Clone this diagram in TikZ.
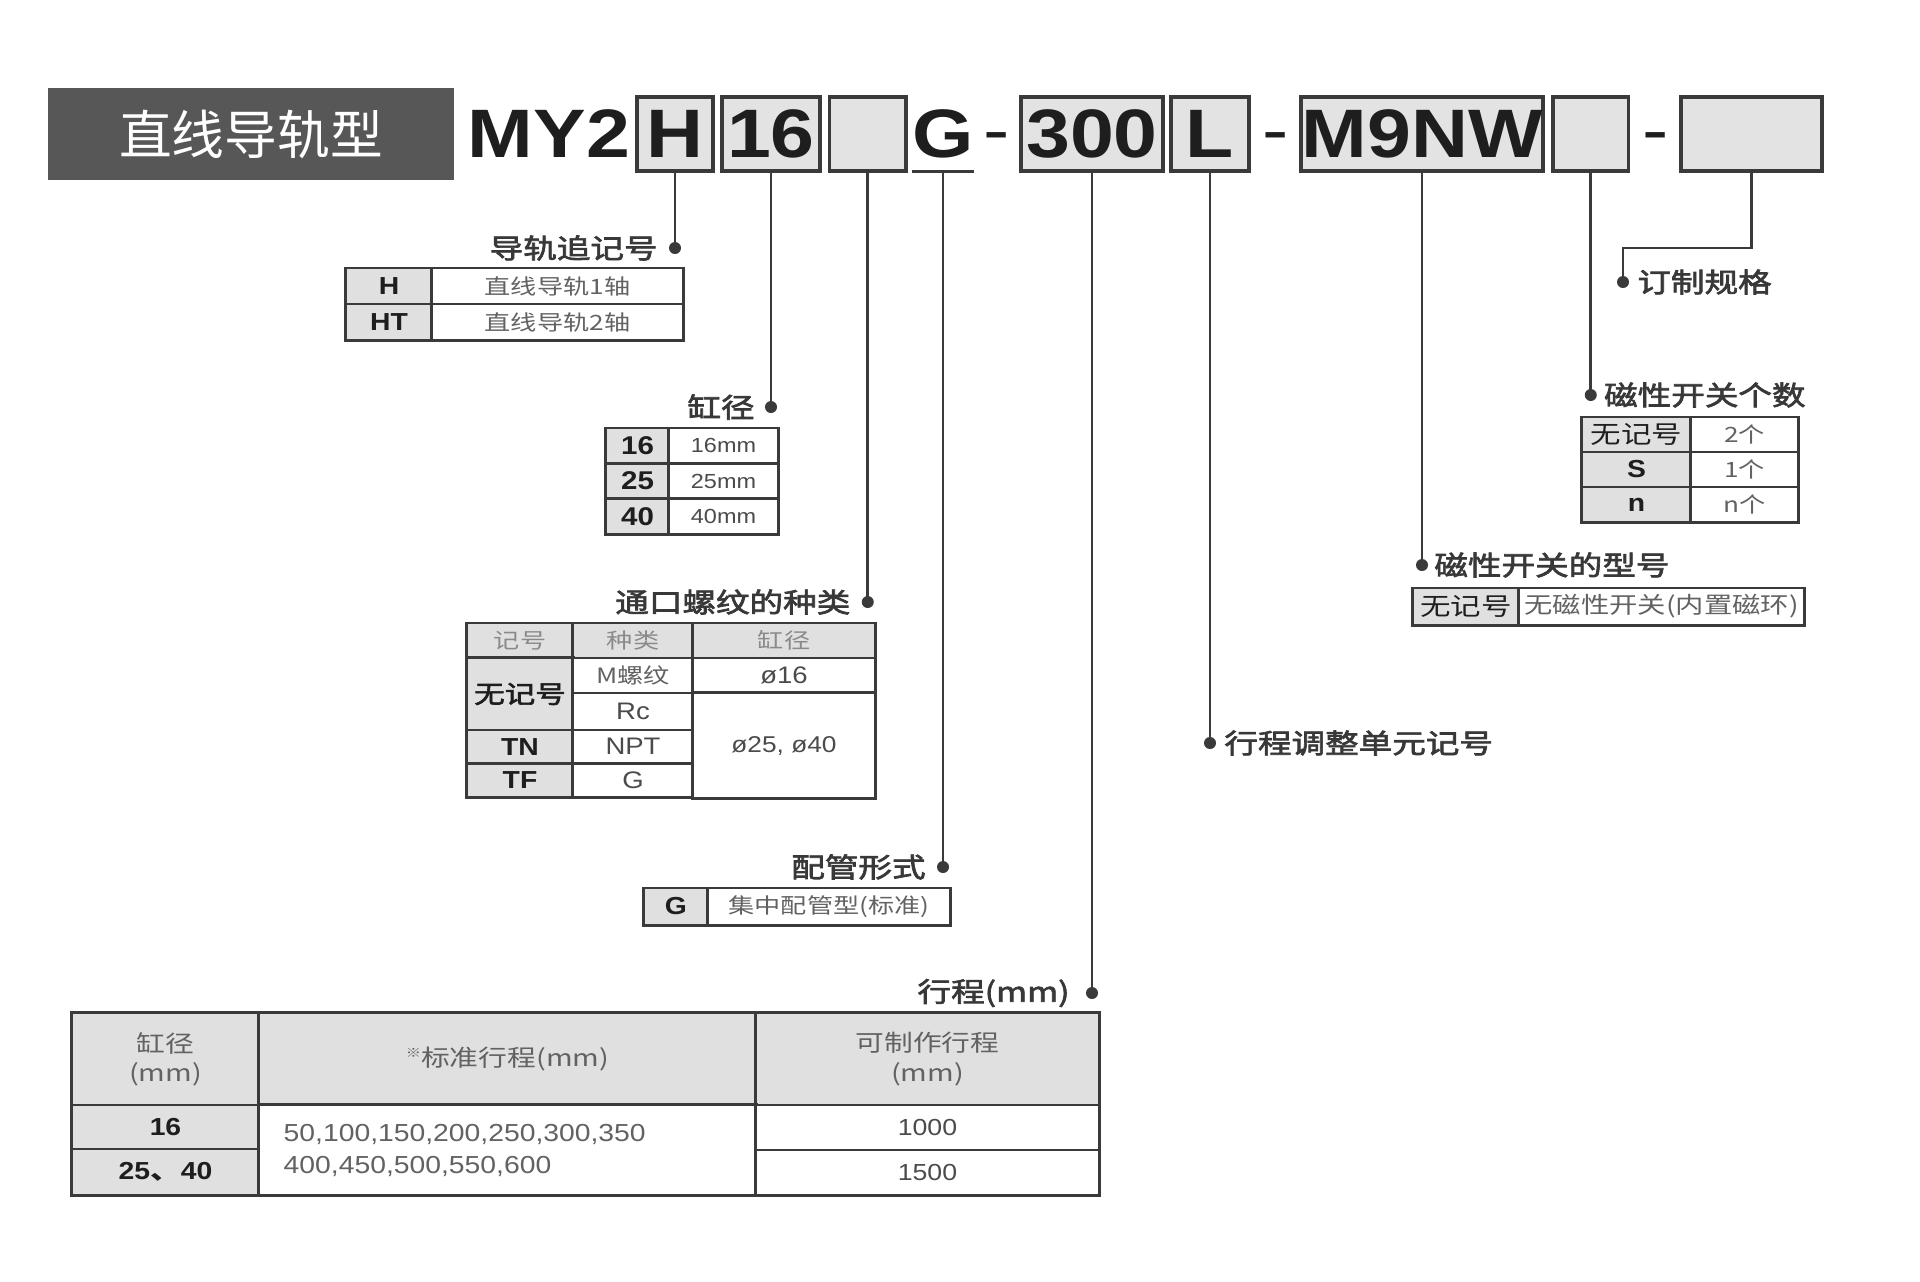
\documentclass[tikz,border=0pt]{standalone}
\usepackage{fontspec}
\setmainfont{Liberation Sans}[FakeStretch=1.15]
\newfontfamily\cjk{Noto Sans CJK SC}[FakeStretch=1.24]
\newfontfamily\cjklbl{Noto Sans CJK SC}[FakeStretch=1.24, FakeBold=2.5]
\newfontfamily\cjktitle{Noto Sans CJK SC}
\usetikzlibrary{positioning}

\definecolor{linecol}{HTML}{3A3A3A}
\definecolor{boxgray}{HTML}{E3E3E3}
\definecolor{cellgray}{HTML}{E0E0E0}
\definecolor{titlecol}{HTML}{575757}
\definecolor{codecol}{HTML}{1E1E1E}
\definecolor{lblcol}{HTML}{383838}
\definecolor{desccol}{HTML}{626262}
\definecolor{headcol}{HTML}{8A8A8A}

\tikzset{
  wire/.style={draw=linecol, line width=0.75pt},
  dot/.style={circle, fill=linecol, inner sep=0, minimum size=0.12cm},
  titlebox/.style={fill=titlecol, inner sep=0, minimum width=4.06cm, minimum height=0.92cm,
    text=white, font=\cjktitle\fontsize{15}{18}\selectfont},
  codetext/.style={inner sep=0, minimum height=0.74cm, text=codecol, font=\bfseries\fontsize{19.5}{23}\selectfont},
  codebox/.style={codetext, draw=linecol, fill=boxgray, line width=1pt},
  dashtext/.style={inner sep=0, anchor=base, text=codecol, font=\fontsize{19.5}{23}\selectfont},
  lbl/.style={inner sep=0, text=lblcol, font=\cjklbl\fontsize{7.7}{9}\selectfont},
  cellbox/.style={draw=linecol, line width=0.85pt, fill=white, inner sep=0, align=center,
    text=desccol, font=\cjk\fontsize{6}{7.5}\selectfont},
  codecell/.style={fill=cellgray, text=codecol, font=\bfseries\fontsize{7}{8}\selectfont},
  latcell/.style={text=codecol!80, font=\fontsize{6.8}{8}\selectfont},
  headcell/.style={fill=cellgray, text=headcol},
  bighead/.style={text=desccol, font=\cjk\fontsize{6.6}{8.3}\selectfont},
  numtext/.style={inner sep=0, text=desccol, font=\fontsize{7}{9.1}\selectfont}
}

% one framed box of the code row, from x #2 to x #3
\newcommand{\codebox}[4]{
\pgfmathsetmacro{\boxw}{(#3-#2)/100}
\pgfmathsetmacro{\boxx}{(#2+#3)/2}
\node[codebox, minimum width=\boxw cm] (#1) at (\boxx,134) {#4};
}

% one table cell from (#3,#4) to (#5,#6)
\newcommand{\tabcell}[7][]{
\pgfmathsetmacro{\cellw}{(#5-#3)/100}
\pgfmathsetmacro{\cellh}{(#6-#4)/100}
\node[cellbox, #1, minimum width=\cellw cm, minimum height=\cellh cm] (#2) at ({(#3+#5)/2},{(#4+#6)/2}) {#7};
}

\begin{document}
\begin{tikzpicture}[x=0.01cm,y=-0.01cm]
\path[use as bounding box, fill=white] (0,0) rectangle (1920,1281);

% code row
\node[titlebox] (title) at (251,134) {直线导轨型};
\node[codetext] (model) at (549,134) {MY2};
\codebox{boxH}{637}{713}{H}
\codebox{box16}{722}{820}{16}
\codebox{boxPort}{829.5}{906}{}
\node[codetext, minimum width=0.55cm] (codeG) at (943,134) {G};
\draw[draw=linecol, line width=1pt] (codeG.south west) -- (codeG.south east);
\node[dashtext] (dash1) at (996.5,153) {-};
\codebox{box300}{1021}{1163}{300}
\codebox{boxL}{1171}{1249}{L}
\node[dashtext] (dash2) at (1275.5,153) {-};
\codebox{boxSw}{1301}{1543}{M9NW}
\codebox{boxNum}{1553}{1628.5}{}
\node[dashtext] (dash3) at (1655.5,153) {-};
\codebox{boxOpt}{1681}{1822}{}

% dots at the ends of the leaders
\node[dot] (dH) at (boxH |- 0,248) {};
\node[dot] (dBore) at (box16 |- 0,407) {};
\node[dot] (dPort) at (boxPort |- 0,602) {};
\node[dot] (dPipe) at (codeG |- 0,867) {};
\node[dot] (dStroke) at (box300 |- 0,993) {};
\node[dot] (dAdj) at (boxL |- 0,743) {};
\node[dot] (dSw) at (boxSw |- 0,565) {};
\node[dot] (dNum) at (boxNum |- 0,395) {};
\node[dot] (dOpt) at (1623,282) {};
\coordinate (cOpt) at (1623,248);

\draw[wire] (boxH.south) -- (dH.center);
\draw[wire] (box16.south) -- (dBore.center);
\draw[wire] (boxPort.south) -- (dPort.center);
\draw[wire] (codeG.south) -- (dPipe.center);
\draw[wire] (box300.south) -- (dStroke.center);
\draw[wire] (boxL.south) -- (dAdj.center);
\draw[wire] (boxSw.south) -- (dSw.center);
\draw[wire] (boxNum.south) -- (dNum.center);
\draw[wire] (boxOpt.south) |- (cOpt) -- (dOpt.center);

% labels
\node[lbl, left=0.1cm of dH] (lblrail) {导轨追记号};
\node[lbl, left=0.09cm of dBore] (lblbore) {缸径};
\node[lbl, left=0.1cm of dPort] (lblport) {通口螺纹的种类};
\node[lbl, left=0.1cm of dPipe] (lblpipe) {配管形式};
\node[lbl, left=0.15cm of dStroke] (lblstroke) {行程(mm)};
\node[lbl, right=0.07cm of dAdj] (lbladj) {行程调整单元记号};
\node[lbl, right=0.05cm of dSw] (lblsw) {磁性开关的型号};
\node[lbl, right=0.06cm of dNum] (lblnum) {磁性开关个数};
\node[lbl, right=0.07cm of dOpt] (lblopt) {订制规格};

% rail table
\foreach \code/\txt [count=\i] in {H/直线导轨1轴, HT/直线导轨2轴} {
  \pgfmathsetmacro{\ya}{268+36*(\i-1)}
  \pgfmathsetmacro{\yb}{\ya+36}
  \tabcell[codecell]{railcode\i}{346}{\ya}{432}{\yb}{\code}
  \tabcell{railtxt\i}{432}{\ya}{683}{\yb}{\txt}
}

% bore table
\foreach \code [count=\i] in {16,25,40} {
  \pgfmathsetmacro{\ya}{428+35.33*(\i-1)}
  \pgfmathsetmacro{\yb}{\ya+35.33}
  \tabcell[codecell, font=\bfseries\fontsize{7.3}{8}\selectfont]{borecode\i}{606}{\ya}{669}{\yb}{\code}
  \tabcell[latcell, font=\fontsize{5.8}{7}\selectfont]{boretxt\i}{669}{\ya}{778}{\yb}{\code mm}
}

% port table
\tabcell[headcell]{porthead1}{467}{623}{573}{658}{记号}
\tabcell[headcell]{porthead2}{573}{623}{693}{658}{种类}
\tabcell[headcell]{porthead3}{693}{623}{875}{658}{缸径}
\tabcell[codecell]{portcode1}{467}{658}{573}{730}{\mdseries\cjklbl 无记号}
\tabcell{porttype1}{573}{658}{693}{693}{M螺纹}
\tabcell[latcell]{porttype2}{573}{693}{693}{730}{Rc}
\foreach \code/\txt [count=\i] in {TN/NPT, TF/G} {
  \pgfmathsetmacro{\ya}{730+33.5*(\i-1)}
  \pgfmathsetmacro{\yb}{\ya+33.5}
  \tabcell[codecell]{portcode\i x}{467}{\ya}{573}{\yb}{\code}
  \tabcell[latcell]{porttype\i x}{573}{\ya}{693}{\yb}{\txt}
}
\tabcell[latcell]{portbore1}{693}{658}{875}{693}{ø16}
\tabcell[latcell, font=\fontsize{6.5}{8}\selectfont]{portbore2}{693}{693}{875}{798}{ø25, ø40}

% piping table
\tabcell[codecell]{pipecode}{644}{888}{708}{925}{G}
\tabcell{pipetxt}{708}{888}{950}{925}{集中配管型(标准)}

% switch count table
\foreach \code/\txt [count=\i] in {{\mdseries\cjk 无记号}/2个, S/1个, n/n个} {
  \pgfmathsetmacro{\ya}{417+35*(\i-1)}
  \pgfmathsetmacro{\yb}{\ya+35}
  \tabcell[codecell]{numcode\i}{1582}{\ya}{1691}{\yb}{\code}
  \tabcell{numtxt\i}{1691}{\ya}{1798}{\yb}{\txt}
}

% switch model table
\tabcell[codecell]{swcode}{1413}{588}{1519}{625}{\mdseries\cjk 无记号}
\tabcell[font=\cjk\fontsize{6.5}{8}\selectfont]{swtxt}{1519}{588}{1804}{625}{无磁性开关(内置磁环)}

% stroke table
\tabcell[headcell, bighead]{strokehead1}{72}{1013}{259}{1105}{缸径\\(mm)}
\tabcell[headcell, bighead]{strokehead2}{259}{1013}{756}{1105}{\raisebox{0.4em}{\fontsize{3.5}{4}\selectfont ※}标准行程(mm)}
\tabcell[headcell, bighead]{strokehead3}{756}{1013}{1099}{1105}{可制作行程\\(mm)}
\tabcell[codecell]{strokecode1}{72}{1105}{259}{1149}{16}
\tabcell[codecell]{strokecode2}{72}{1149}{259}{1195}{25{\cjk 、}40}
\tabcell{strokestd}{259}{1105}{756}{1195}{}
\node[numtext, anchor=west, align=left] (stdlist) at (283,1150) {50,100,150,200,250,300,350\\400,450,500,550,600};
\tabcell[latcell, font=\fontsize{6.6}{8}\selectfont]{strokemax1}{756}{1105}{1099}{1150}{1000}
\tabcell[latcell, font=\fontsize{6.6}{8}\selectfont]{strokemax2}{756}{1150}{1099}{1195}{1500}
\end{tikzpicture}
\end{document}
